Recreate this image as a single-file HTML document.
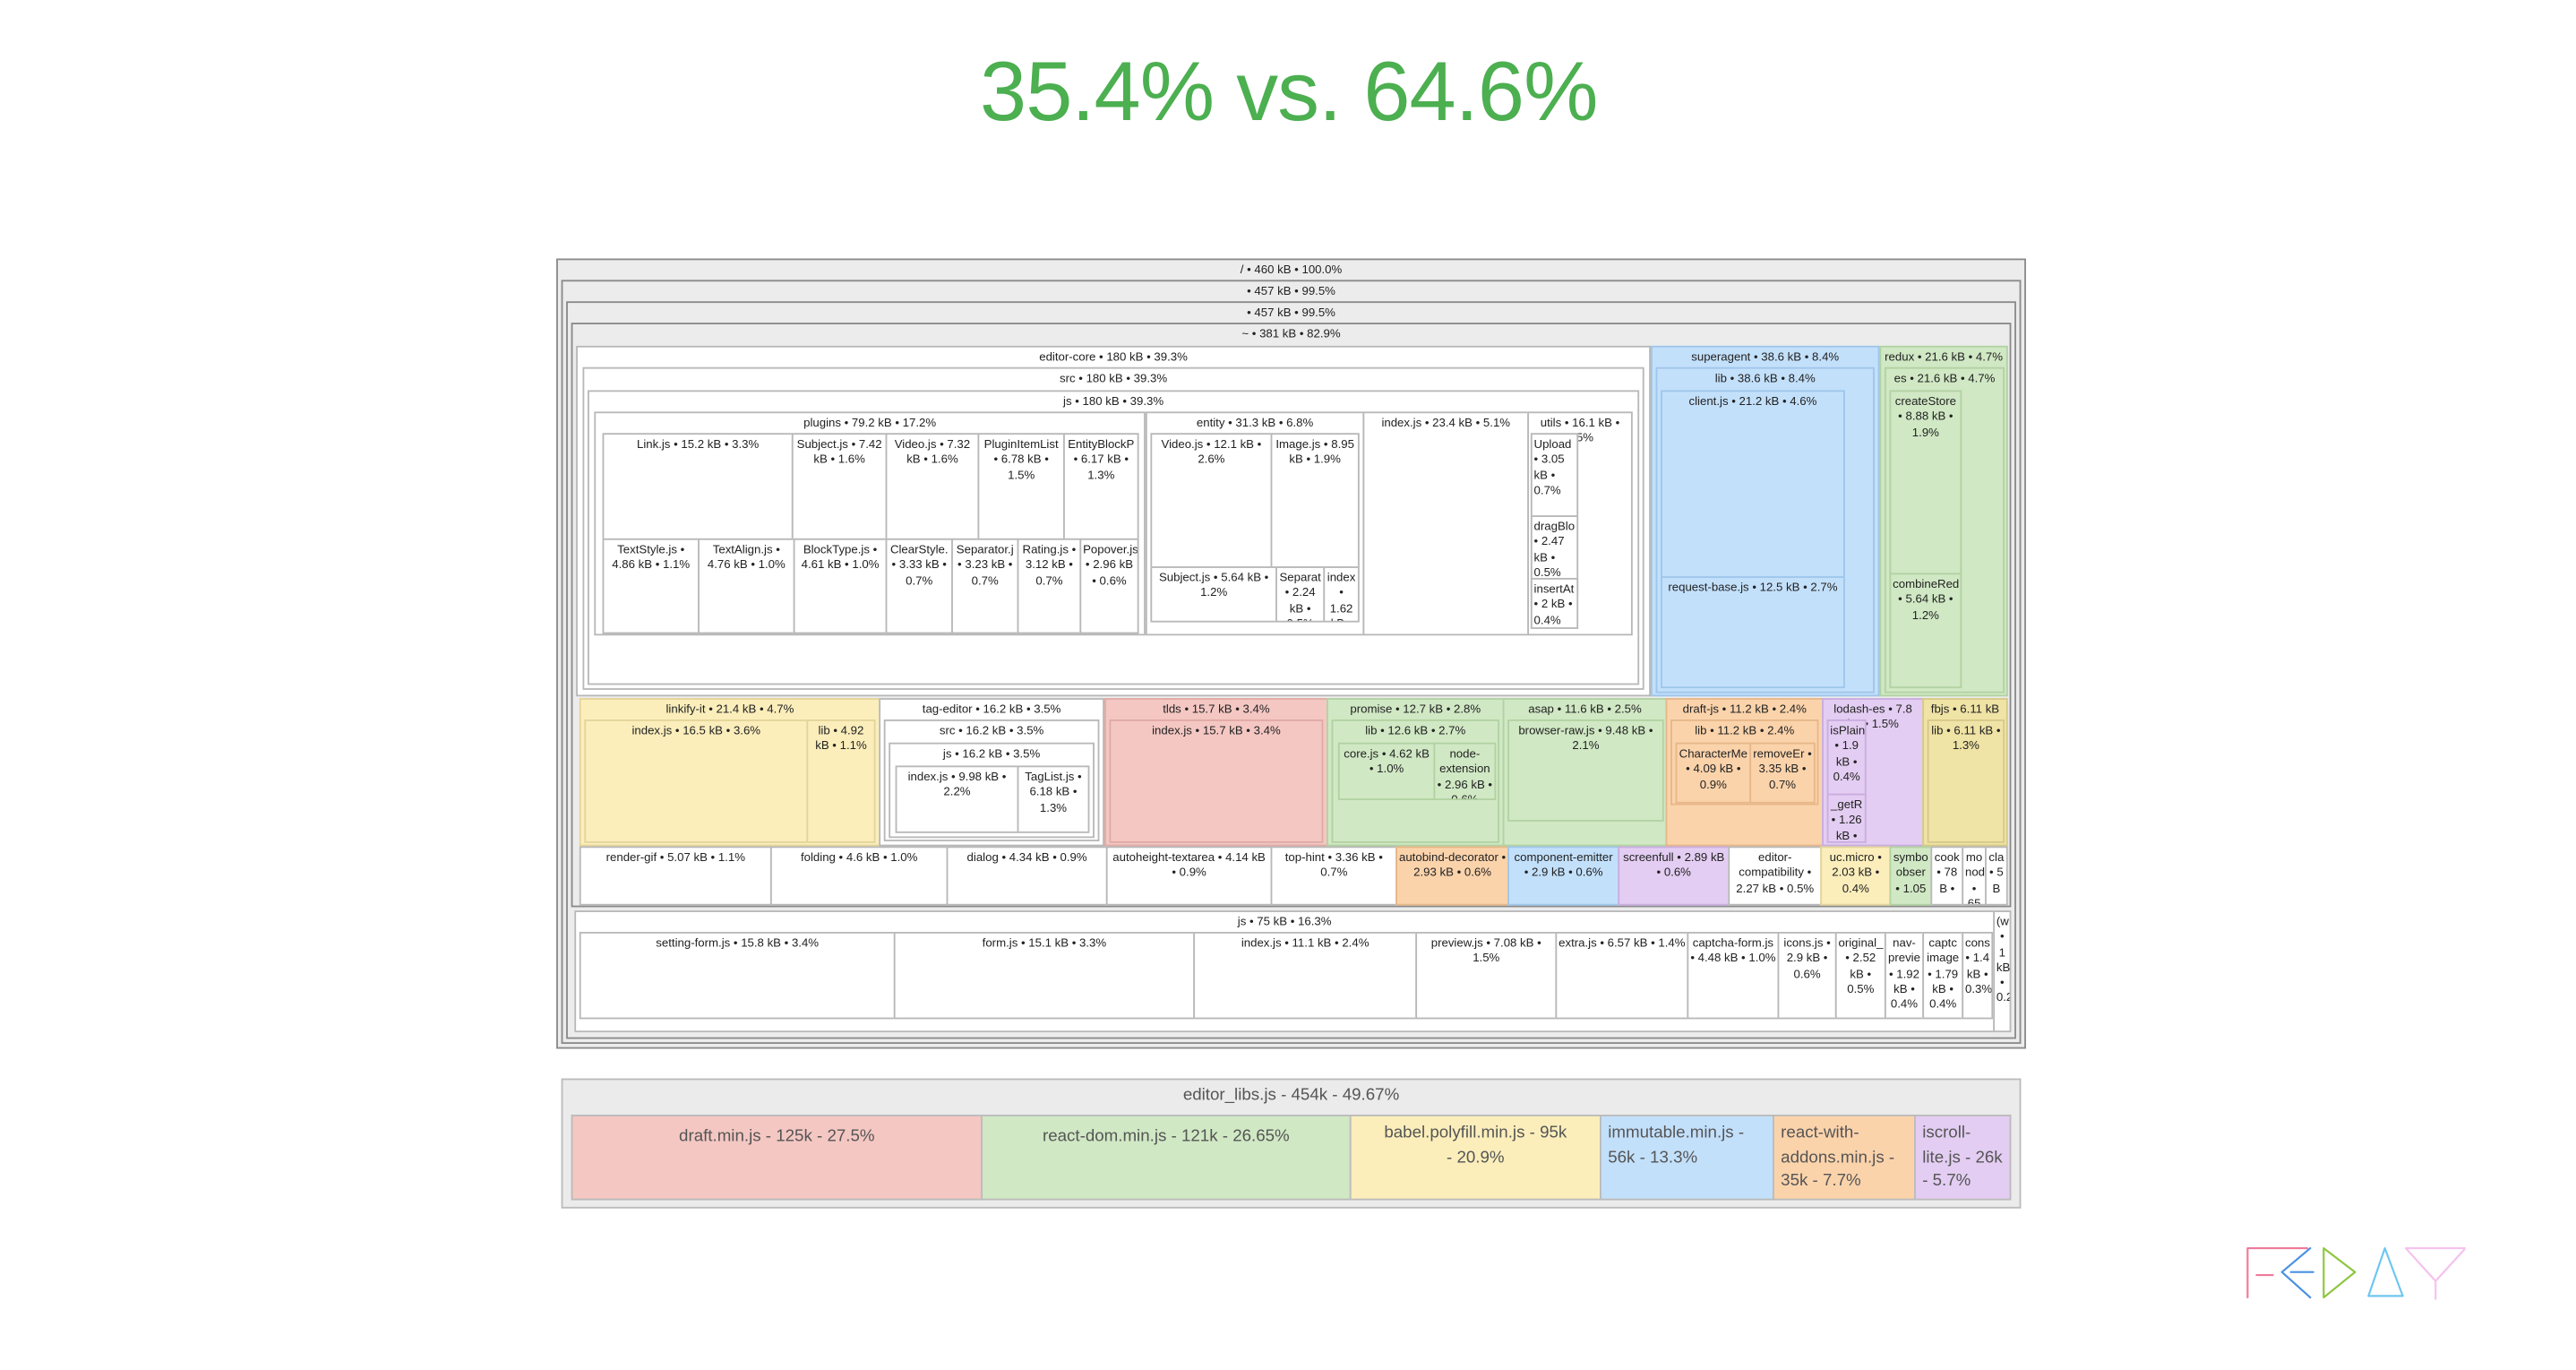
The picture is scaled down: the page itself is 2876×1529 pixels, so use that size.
<!DOCTYPE html>
<html><head><meta charset="utf-8"><style>
*{margin:0;padding:0;box-sizing:border-box}
body{width:2876px;height:1528px;background:#fff;overflow:hidden;font-family:"Liberation Sans",sans-serif}
#c{position:absolute;left:0;top:0;width:1565px;height:832px;transform:scale(1.8375);transform-origin:0 0}
.b{position:absolute;border:1px solid #b8b8b8;font-size:7.2px;line-height:9.3px;color:#222;text-align:center;padding:1px 1px 0;overflow:hidden;background:#fff}
.g{background:#ececec;border-color:#8a8a8a}
.r{background:#f4c7c3;border-color:#e0aaa5}.gr{background:#d0e8c4;border-color:#b2d2a2}.y{background:#fbeebb;border-color:#e3d49a}
.bl{background:#c3e0fb;border-color:#9fc6ea}.o{background:#fbd3ab;border-color:#e6b789}.p{background:#e3cdf2;border-color:#c9addf}.f{background:#efe3a5;border-color:#d6c98a}
.L{position:absolute;font-size:10.2px;line-height:14.5px;color:#555;padding:6px 4px;text-align:center;border:1px solid #bbb;overflow:hidden}
</style></head><body><div id="c">
<div style="position:absolute;left:0;width:1566px;top:26px;text-align:center;font-size:51px;color:#4caf50;letter-spacing:-0.5px">35.4% vs. 64.6%</div>

<div class="b g" style="left:338px;top:157px;width:893px;height:480px">/ • 460 kB • 100.0%</div>
<div class="b g" style="left:341px;top:170px;width:887px;height:464px">• 457 kB • 99.5%</div>
<div class="b g" style="left:344px;top:183px;width:881px;height:448px">• 457 kB • 99.5%</div>
<div class="b g" style="left:347px;top:196px;width:875px;height:355px">~ • 381 kB • 82.9%</div>

<div class="b" style="left:350px;top:210px;width:653px;height:213px">editor-core • 180 kB • 39.3%</div>
<div class="b" style="left:354px;top:223px;width:645px;height:196px">src • 180 kB • 39.3%</div>
<div class="b" style="left:357px;top:237px;width:639px;height:179px">js • 180 kB • 39.3%</div>
<div class="b" style="left:361px;top:250px;width:335px;height:136px">plugins • 79.2 kB • 17.2%</div>
<div class="b" style="left:366px;top:263px;width:116px;height:65px">Link.js • 15.2 kB • 3.3%</div>
<div class="b" style="left:481px;top:263px;width:58px;height:65px">Subject.js • 7.42 kB • 1.6%</div>
<div class="b" style="left:538px;top:263px;width:57px;height:65px">Video.js • 7.32 kB • 1.6%</div>
<div class="b" style="left:594px;top:263px;width:53px;height:65px">PluginItemList • 6.78 kB • 1.5%</div>
<div class="b" style="left:646px;top:263px;width:46px;height:65px">EntityBlockP • 6.17 kB • 1.3%</div>
<div class="b" style="left:366px;top:327px;width:59px;height:58px">TextStyle.js • 4.86 kB • 1.1%</div>
<div class="b" style="left:424px;top:327px;width:59px;height:58px">TextAlign.js • 4.76 kB • 1.0%</div>
<div class="b" style="left:482px;top:327px;width:57px;height:58px">BlockType.js • 4.61 kB • 1.0%</div>
<div class="b" style="left:538px;top:327px;width:41px;height:58px">ClearStyle. • 3.33 kB • 0.7%</div>
<div class="b" style="left:578px;top:327px;width:41px;height:58px">Separator.j • 3.23 kB • 0.7%</div>
<div class="b" style="left:618px;top:327px;width:39px;height:58px">Rating.js • 3.12 kB • 0.7%</div>
<div class="b" style="left:656px;top:327px;width:36px;height:58px">Popover.js • 2.96 kB • 0.6%</div>
<div class="b" style="left:696px;top:250px;width:133px;height:136px">entity • 31.3 kB • 6.8%</div>
<div class="b" style="left:699px;top:263px;width:74px;height:114px">Video.js • 12.1 kB • 2.6%</div>
<div class="b" style="left:772px;top:263px;width:54px;height:82px">Image.js • 8.95 kB • 1.9%</div>
<div class="b" style="left:699px;top:344px;width:77px;height:34px">Subject.js • 5.64 kB • 1.2%</div>
<div class="b" style="left:775px;top:344px;width:30px;height:34px">Separat • 2.24 kB • 0.5%</div>
<div class="b" style="left:804px;top:344px;width:22px;height:34px">index • 1.62 kB • 0.4%</div>
<div class="b" style="left:828px;top:250px;width:101px;height:136px">index.js • 23.4 kB • 5.1%</div>
<div class="b" style="left:928px;top:250px;width:64px;height:136px">utils • 16.1 kB • 3.5%</div>
<div class="b" style="left:930px;top:263px;width:29px;height:51px;text-align:left">Upload • 3.05 kB • 0.7%</div>
<div class="b" style="left:930px;top:313px;width:29px;height:49px;text-align:left">dragBlo • 2.47 kB • 0.5%</div>
<div class="b" style="left:930px;top:351px;width:29px;height:31px;text-align:left">insertAt • 2 kB • 0.4%</div>

<div class="b bl" style="left:1003px;top:210px;width:139px;height:213px">superagent • 38.6 kB • 8.4%</div>
<div class="b bl" style="left:1006px;top:223px;width:133px;height:198px">lib • 38.6 kB • 8.4%</div>
<div class="b bl" style="left:1009px;top:237px;width:112px;height:114px">client.js • 21.2 kB • 4.6%</div>
<div class="b bl" style="left:1009px;top:350px;width:112px;height:68px">request-base.js • 12.5 kB • 2.7%</div>
<div class="b gr" style="left:1142px;top:210px;width:78px;height:213px">redux • 21.6 kB • 4.7%</div>
<div class="b gr" style="left:1145px;top:223px;width:73px;height:198px">es • 21.6 kB • 4.7%</div>
<div class="b gr" style="left:1148px;top:237px;width:44px;height:112px">createStore • 8.88 kB • 1.9%</div>
<div class="b gr" style="left:1148px;top:348px;width:44px;height:70px">combineRed • 5.64 kB • 1.2%</div>

<div class="b y" style="left:352px;top:424px;width:183px;height:90px">linkify-it • 21.4 kB • 4.7%</div>
<div class="b y" style="left:355px;top:437px;width:136px;height:75px">index.js • 16.5 kB • 3.6%</div>
<div class="b y" style="left:490px;top:437px;width:42px;height:75px">lib • 4.92 kB • 1.1%</div>
<div class="b" style="left:534px;top:424px;width:137px;height:90px">tag-editor • 16.2 kB • 3.5%</div>
<div class="b" style="left:537px;top:437px;width:131px;height:74px">src • 16.2 kB • 3.5%</div>
<div class="b" style="left:540px;top:451px;width:125px;height:58px">js • 16.2 kB • 3.5%</div>
<div class="b" style="left:544px;top:465px;width:75px;height:41px">index.js • 9.98 kB • 2.2%</div>
<div class="b" style="left:618px;top:465px;width:44px;height:41px">TagList.js • 6.18 kB • 1.3%</div>
<div class="b r" style="left:671px;top:424px;width:136px;height:90px">tlds • 15.7 kB • 3.4%</div>
<div class="b r" style="left:674px;top:437px;width:130px;height:75px">index.js • 15.7 kB • 3.4%</div>
<div class="b gr" style="left:806px;top:424px;width:108px;height:90px">promise • 12.7 kB • 2.8%</div>
<div class="b gr" style="left:809px;top:437px;width:102px;height:75px">lib • 12.6 kB • 2.7%</div>
<div class="b gr" style="left:813px;top:451px;width:59px;height:35px">core.js • 4.62 kB • 1.0%</div>
<div class="b gr" style="left:871px;top:451px;width:38px;height:35px">node-extension • 2.96 kB • 0.6%</div>
<div class="b gr" style="left:913px;top:424px;width:100px;height:90px">asap • 11.6 kB • 2.5%</div>
<div class="b gr" style="left:916px;top:437px;width:95px;height:62px">browser-raw.js • 9.48 kB • 2.1%</div>
<div class="b o" style="left:1012px;top:424px;width:96px;height:90px">draft-js • 11.2 kB • 2.4%</div>
<div class="b o" style="left:1015px;top:437px;width:90px;height:52px">lib • 11.2 kB • 2.4%</div>
<div class="b o" style="left:1018px;top:451px;width:46px;height:37px">CharacterMe • 4.09 kB • 0.9%</div>
<div class="b o" style="left:1063px;top:451px;width:40px;height:37px">removeEr • 3.35 kB • 0.7%</div>
<div class="b p" style="left:1107px;top:424px;width:62px;height:90px">lodash-es • 7.8 kB • 1.5%</div>
<div class="b p" style="left:1110px;top:437px;width:24px;height:46px">isPlain • 1.9 kB • 0.4%</div>
<div class="b p" style="left:1110px;top:482px;width:24px;height:30px">_getR • 1.26 kB •</div>
<div class="b f" style="left:1168px;top:424px;width:52px;height:90px">fbjs • 6.11 kB</div>
<div class="b f" style="left:1171px;top:437px;width:47px;height:75px">lib • 6.11 kB • 1.3%</div>

<div class="b" style="left:352px;top:514px;width:117px;height:36px">render-gif • 5.07 kB • 1.1%</div>
<div class="b" style="left:468px;top:514px;width:108px;height:36px">folding • 4.6 kB • 1.0%</div>
<div class="b" style="left:575px;top:514px;width:98px;height:36px">dialog • 4.34 kB • 0.9%</div>
<div class="b" style="left:672px;top:514px;width:101px;height:36px">autoheight-textarea • 4.14 kB • 0.9%</div>
<div class="b" style="left:772px;top:514px;width:77px;height:36px">top-hint • 3.36 kB • 0.7%</div>
<div class="b o" style="left:848px;top:514px;width:69px;height:36px">autobind-decorator • 2.93 kB • 0.6%</div>
<div class="b bl" style="left:916px;top:514px;width:68px;height:36px">component-emitter • 2.9 kB • 0.6%</div>
<div class="b p" style="left:983px;top:514px;width:68px;height:36px">screenfull • 2.89 kB • 0.6%</div>
<div class="b" style="left:1050px;top:514px;width:57px;height:36px">editor-compatibility • 2.27 kB • 0.5%</div>
<div class="b y" style="left:1106px;top:514px;width:43px;height:36px">uc.micro • 2.03 kB • 0.4%</div>
<div class="b gr" style="left:1148px;top:514px;width:26px;height:36px">symbo obser • 1.05</div>
<div class="b" style="left:1173px;top:514px;width:20px;height:36px">cook • 78 B •</div>
<div class="b" style="left:1192px;top:514px;width:15px;height:36px">mo nod • 65</div>
<div class="b" style="left:1206px;top:514px;width:14px;height:36px">cla • 5 B</div>

<div class="b" style="left:349px;top:553px;width:863px;height:74px">js • 75 kB • 16.3%</div>
<div class="b" style="left:1211px;top:553px;width:11px;height:74px">(w • 1 kB • 0.2</div>
<div class="b" style="left:352px;top:566px;width:192px;height:53px">setting-form.js • 15.8 kB • 3.4%</div>
<div class="b" style="left:543px;top:566px;width:183px;height:53px">form.js • 15.1 kB • 3.3%</div>
<div class="b" style="left:725px;top:566px;width:136px;height:53px">index.js • 11.1 kB • 2.4%</div>
<div class="b" style="left:860px;top:566px;width:86px;height:53px">preview.js • 7.08 kB • 1.5%</div>
<div class="b" style="left:945px;top:566px;width:81px;height:53px">extra.js • 6.57 kB • 1.4%</div>
<div class="b" style="left:1025px;top:566px;width:56px;height:53px">captcha-form.js • 4.48 kB • 1.0%</div>
<div class="b" style="left:1080px;top:566px;width:36px;height:53px">icons.js • 2.9 kB • 0.6%</div>
<div class="b" style="left:1115px;top:566px;width:31px;height:53px">original_ • 2.52 kB • 0.5%</div>
<div class="b" style="left:1145px;top:566px;width:24px;height:53px">nav-previe • 1.92 kB • 0.4%</div>
<div class="b" style="left:1168px;top:566px;width:25px;height:53px">captc image • 1.79 kB • 0.4%</div>
<div class="b" style="left:1192px;top:566px;width:19px;height:53px">cons • 1.4 kB • 0.3%</div>

<div class="L" style="left:341px;top:655px;width:887px;height:79px;background:#ebebeb;padding-top:3px">editor_libs.js - 454k - 49.67%</div>
<div class="L" style="left:347px;top:677px;width:250px;height:52px;background:#f4c7c3">draft.min.js - 125k - 27.5%</div>
<div class="L" style="left:596px;top:677px;width:225px;height:52px;background:#d0e8c4">react-dom.min.js - 121k - 26.65%</div>
<div class="L" style="left:820px;top:677px;width:153px;height:52px;background:#fbeebb;padding:4px 18px 0">babel.polyfill.min.js - 95k - 20.9%</div>
<div class="L" style="left:972px;top:677px;width:106px;height:52px;background:#c3e0fb;text-align:left;padding-top:4px">immutable.min.js - 56k - 13.3%</div>
<div class="L" style="left:1077px;top:677px;width:87px;height:52px;background:#fbd3ab;text-align:left;padding-top:4px">react-with-addons.min.js - 35k - 7.7%</div>
<div class="L" style="left:1163px;top:677px;width:59px;height:52px;background:#e3cdf2;text-align:left;padding-top:4px">iscroll-lite.js - 26k - 5.7%</div>

<svg style="position:absolute;left:1362px;top:752px" width="136" height="44" viewBox="0 0 150 45" fill="none" stroke-width="1.3" stroke-linecap="round" stroke-linejoin="round">
<path d="M4 38V5h40M10 23h11" stroke="#f07a9a"/>
<path d="M46 5L27 21l19 17M33 21h15" stroke="#4a90e2"/>
<path d="M55 5v33l21-17z" stroke="#8dc63f"/>
<path d="M96 5l-11 32h23z" stroke="#6ec6f0"/>
<path d="M110 5h40l-20 22zM130 27v12" stroke="#f5c1ee"/>
</svg>
</div></body></html>
